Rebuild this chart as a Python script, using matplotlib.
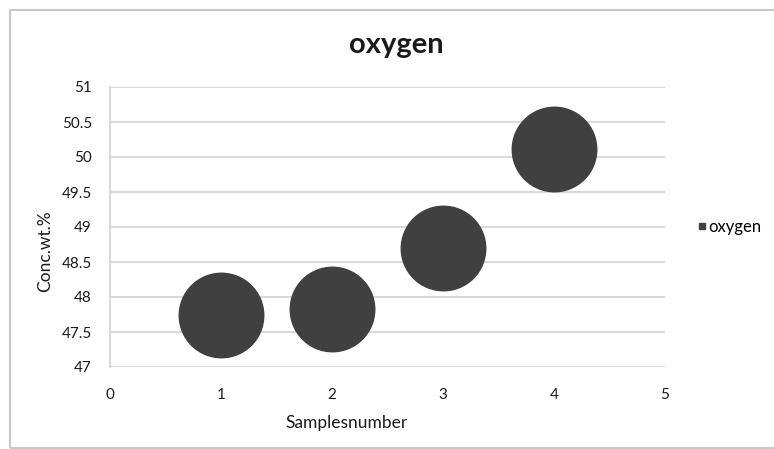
import numpy as np
import matplotlib
matplotlib.use('Agg')
import matplotlib.pyplot as plt
from matplotlib.patches import Rectangle
from matplotlib.lines import Line2D

plt.rcParams['font.family'] = ['Lato', 'DejaVu Sans']

# ========== 数据 ==========
samples = [1, 2, 3, 4]
conc = [47.74, 47.83, 48.70, 50.11]
series_name = 'oxygen'
y_ticks = [47, 47.5, 48, 48.5, 49, 49.5, 50, 50.5, 51]
y_labels = ['47', '47.5', '48', '48.5', '49', '49.5', '50', '50.5', '51']
x_ticks = [0, 1, 2, 3, 4, 5]

BUBBLE = '#404040'
GRID = '#d9d9d9'
TXT = '#1a1a1a'

fig = plt.figure(figsize=(7.74, 4.49), dpi=100)
fig.patch.set_facecolor('white')

# 外框
fig.patches.append(Rectangle((10 / 774, 1 / 449), 1.2, 438 / 449, transform=fig.transFigure,
                             fill=False, edgecolor='#c8c8c8', linewidth=1.5, zorder=0))

ax = fig.add_axes([110 / 774, 82 / 449, 555 / 774, 280 / 449])
ax.set_xlim(0, 5)
ax.set_ylim(47, 51)

for y in y_ticks:
    ax.axhline(y, color=GRID, linewidth=1.5, zorder=1)

ax.scatter(samples, conc, s=3700, color=BUBBLE, zorder=3)

for sp in ['top', 'right', 'bottom']:
    ax.spines[sp].set_visible(False)
ax.spines['left'].set_color(GRID)
ax.spines['left'].set_linewidth(1.5)

ax.set_yticks(y_ticks)
ax.set_yticklabels(y_labels)
ax.set_xticks(x_ticks)
ax.tick_params(axis='both', length=0, labelsize=11, colors=TXT)
ax.tick_params(axis='y', pad=13)
ax.tick_params(axis='x', pad=15)

fig.text(347 / 774, 1 - 423 / 449, 'Samplesnumber', ha='center', va='center',
         fontsize=12.5, color=TXT)
fig.text(45 / 774, 1 - 251 / 449, 'Conc.wt.%', ha='center', va='center',
         rotation=90, fontsize=12.5, color=TXT)

fig.text(396 / 774, 1 - 45 / 449, 'oxygen', ha='center', va='center',
         fontsize=21, fontweight='bold', color=TXT)

handle = Line2D([], [], linestyle='none', marker='s', markersize=4.5,
                color=BUBBLE)
ax.legend([handle], [series_name], loc='center left',
          bbox_to_anchor=(1.045, 0.5), frameon=False, fontsize=12,
          handlelength=0.6, handletextpad=0.1, borderaxespad=0)

fig.savefig('out.png', dpi=100)
